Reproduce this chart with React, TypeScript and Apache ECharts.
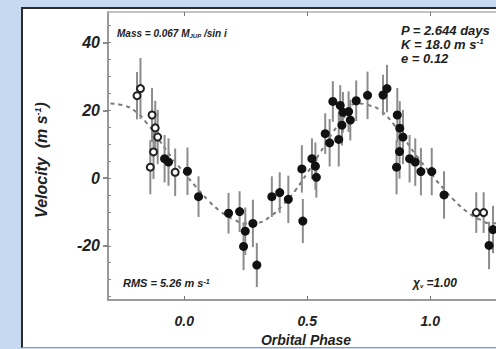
import React, { useEffect, useRef } from "react";
import * as echarts from "echarts";

// Filled points: phase, velocity (m/s), error (m/s)
const filledPhase = [-0.080, -0.064, 0.013, 0.058, 0.180, 0.225, 0.241, 0.248, 0.279, 0.295, 0.356, 0.388, 0.423, 0.482, 0.478, 0.519, 0.533, 0.537, 0.573, 0.591, 0.628, 0.604, 0.634, 0.645, 0.641, 0.668, 0.675, 0.699, 0.745, 0.808, 0.824, 0.866, 0.876, 0.889, 0.875, 0.863, 0.916, 0.939, 0.962, 1.006, 1.056, 1.239, 1.255];
const filledVel = [5.7, 4.7, 2.0, -5.5, -10.4, -9.9, -20.2, -15.7, -13.4, -25.7, -5.5, -4.3, -6.3, -12.7, 2.7, 5.7, 3.5, 0.2, 13.1, 10.4, 11.4, 22.6, 21.4, 19.4, 15.6, 19.6, 17.1, 22.8, 24.4, 24.5, 26.4, 18.6, 14.7, 12.1, 7.8, 3.2, 5.7, 4.7, 1.9, 1.9, -5.0, -19.9, -15.2];
const filledErr = [7, 7, 7, 6, 6, 6, 7, 7, 7, 6.5, 6, 6, 7, 6.5, 7, 6, 7, 6, 6, 7, 8, 6, 6, 6, 6, 6, 6, 6, 7, 6, 7, 8, 8, 8, 8, 8, 7, 7, 7, 7, 7, 7, 7];

// Open (repeated) points
const openPhase = [-0.192, -0.178, -0.131, -0.118, -0.108, -0.125, -0.138, -0.037, 1.187, 1.217];
const openVel = [24.3, 26.4, 18.6, 14.8, 12.1, 7.7, 3.2, 1.7, -10.2, -10.2];
const openErr = [7, 9, 8, 8, 8, 8, 8, 7, 6, 6];

// Orbit fit (dashed)
const curvePhase = [-0.30, -0.25, -0.20, -0.15, -0.10, -0.05, 0.00, 0.05, 0.10, 0.15, 0.20, 0.25, 0.30, 0.35, 0.40, 0.45, 0.50, 0.55, 0.60, 0.65, 0.70, 0.75, 0.80, 0.85, 0.90, 0.95, 1.00, 1.05, 1.10, 1.15, 1.20, 1.25, 1.30];
const curveVel = [22.0, 21.5, 19.8, 16.0, 11.0, 6.0, 1.5, -2.8, -6.8, -10.0, -12.2, -13.4, -13.2, -11.3, -8.0, -3.8, 1.5, 7.2, 13.0, 18.0, 22.0, 21.5, 19.8, 16.0, 11.0, 6.0, 1.5, -2.8, -6.8, -10.0, -12.2, -13.4, -13.2];

const xTickValues = [0, 0.5, 1.0];
const xTickLabels = ["0.0", "0.5", "1.0"];
const yTickValues = [-20, 0, 20, 40];
const yTickLabels = ["-20", "0", "20", "40"];
const yMinorTicks = [-35, -30, -25, -20, -15, -10, -5, 0, 5, 10, 15, 20, 25, 30, 35, 40, 45];

const FONT = '"Liberation Sans Narrow", "Liberation Sans", Arial, sans-serif';

export default function App() {
  const ref = useRef<HTMLDivElement>(null);
  useEffect(() => {
    document.body.style.margin = "0";
    const chart = echarts.init(ref.current!, null, { renderer: "svg" });
    const errData = [
      ...filledPhase.map((p, i) => [p, filledVel[i], filledErr[i]]),
      ...openPhase.map((p, i) => [p, openVel[i], openErr[i]]),
    ];
    const axisCol = "#9a9a9a";
    const labelStyle = { fontFamily: FONT, fontStyle: "italic", fontWeight: "bold", color: "#222" } as any;
    const supStyle = (size: number) => ({ fontSize: size, fontStyle: "italic", fontWeight: "bold", fontFamily: FONT, verticalAlign: "top", fill: "#222" });
    chart.setOption({
      animation: false,
      grid: { left: 108, top: 12, width: 393.6, height: 288 },
      xAxis: [
        {
          type: "value", min: -0.31, max: 1.29, position: "bottom",
          splitLine: { show: false },
          axisLine: { onZero: false, lineStyle: { color: axisCol, width: 2 } },
          axisTick: { inside: true, length: 4, customValues: xTickValues, lineStyle: { color: "#777" } },
          axisLabel: {
            ...labelStyle, fontSize: 14, margin: 14, customValues: xTickValues,
            formatter: (v: number) => { const i = xTickValues.findIndex((t) => Math.abs(t - v) < 1e-9); return i >= 0 ? xTickLabels[i] : ""; },
          },
        },
        {
          type: "value", min: -0.31, max: 1.29, position: "top",
          splitLine: { show: false },
          axisLine: { onZero: false, lineStyle: { color: "#b0b0b0", width: 1.5 } },
          axisTick: { inside: true, length: 4, customValues: xTickValues, lineStyle: { color: "#777" } },
          axisLabel: { show: false },
        },
      ],
      yAxis: [
        {
          type: "value", min: -36, max: 49, position: "left",
          splitLine: { show: false },
          axisLine: { onZero: false, lineStyle: { color: axisCol, width: 2 } },
          axisTick: { inside: false, length: 5, customValues: yTickValues, lineStyle: { color: "#666", width: 1.5 } },
          axisLabel: {
            ...labelStyle, fontSize: 16, margin: 8, customValues: yTickValues,
            formatter: (v: number) => { const i = yTickValues.indexOf(v); return i >= 0 ? yTickLabels[i] : ""; },
          },
        },
        {
          type: "value", min: -36, max: 49, position: "left",
          splitLine: { show: false },
          axisLine: { show: false, onZero: false },
          axisTick: { inside: true, length: 3, customValues: yMinorTicks, lineStyle: { color: "#888" } },
          axisLabel: { show: false },
        },
      ],
      series: [
        {
          type: "line", xAxisIndex: 0, yAxisIndex: 0, smooth: true, symbol: "none",
          data: curvePhase.map((p, i) => [p, curveVel[i]]),
          lineStyle: { color: "#7a7a7a", width: 2, type: [4, 4] },
          z: 1,
        },
        {
          type: "custom", xAxisIndex: 0, yAxisIndex: 0,
          data: errData,
          encode: { x: 0, y: 1 },
          renderItem: (params: any, api: any) => {
            const x = api.value(0), v = api.value(1), e = api.value(2);
            const p1 = api.coord([x, v + e]);
            const p2 = api.coord([x, v - e]);
            return { type: "line", shape: { x1: p1[0], y1: p1[1], x2: p2[0], y2: p2[1] }, style: { stroke: "#8c8c8c", lineWidth: 2 } };
          },
          z: 2,
        },
        {
          type: "scatter", xAxisIndex: 0, yAxisIndex: 0, symbol: "circle", symbolSize: 9,
          data: filledPhase.map((p, i) => [p, filledVel[i]]),
          itemStyle: { color: "#111", opacity: 1 },
          z: 3,
        },
        {
          type: "scatter", xAxisIndex: 0, yAxisIndex: 0, symbol: "circle", symbolSize: 7,
          data: openPhase.map((p, i) => [p, openVel[i]]),
          itemStyle: { color: "#fff", borderColor: "#222", borderWidth: 2, opacity: 1 },
          z: 3,
        },
      ],
      graphic: [
        {
          type: "text", x: 41, y: 160, rotation: Math.PI / 2, z: 10,
          style: {
            text: "Velocity  (m s{sup|-1})", font: `italic bold 16px ${FONT}`, fill: "#222",
            align: "center", verticalAlign: "middle",
            rich: { sup: supStyle(9) },
          },
        },
        {
          type: "text", x: 306, y: 340, z: 10,
          style: { text: "Orbital Phase", font: `italic bold 14px ${FONT}`, fill: "#222", align: "center", verticalAlign: "middle" },
        },
        {
          type: "text", x: 117, y: 33, z: 10,
          style: {
            text: "Mass = 0.067 M{sub|JUP} /sin i", font: `italic bold 10px ${FONT}`, fill: "#222",
            verticalAlign: "middle",
            rich: { sub: { fontSize: 6, fontStyle: "italic", fontWeight: "bold", fontFamily: FONT, verticalAlign: "bottom", padding: [6, 0, 0, 0], fill: "#222" } },
          },
        },
        {
          type: "text", x: 401, y: 23, z: 10,
          style: {
            text: "P = 2.644 days\nK = 18.0 m s{sup|-1}\ne = 0.12",
            font: `italic bold 13px ${FONT}`, fill: "#222", verticalAlign: "top", lineHeight: 14,
            rich: { sup: { ...supStyle(8), lineHeight: 14 } },
          },
        },
        {
          type: "text", x: 123, y: 283, z: 10,
          style: {
            text: "RMS = 5.26 m s{sup|-1}", font: `italic bold 11px ${FONT}`, fill: "#222", verticalAlign: "middle",
            rich: { sup: supStyle(7) },
          },
        },
        {
          type: "text", x: 413, y: 283, z: 10,
          style: {
            text: "χ{sub|ν} =1.00", font: `italic bold 12px ${FONT}`, fill: "#222", verticalAlign: "middle",
            rich: { sub: { fontSize: 6, fontStyle: "italic", fontWeight: "bold", fontFamily: FONT, verticalAlign: "bottom", padding: [6, 0, 0, 0], fill: "#222" } },
          },
        },
      ],
    });
    return () => chart.dispose();
  }, []);
  return (
    <div style={{ position: "fixed", left: 0, top: 0, width: 496, height: 349, background: "#c6d9f1", overflow: "hidden" }}>
      <div style={{ position: "absolute", left: 21, top: 7, width: 520, height: 338, background: "#fff", borderLeft: "2px solid #2a2a2a", borderTop: "2px solid #2a2a2a", borderBottom: "1px solid #999" }} />
      <div ref={ref} style={{ position: "absolute", left: 0, top: 0, width: 520, height: 349 }} />
    </div>
  );
}
